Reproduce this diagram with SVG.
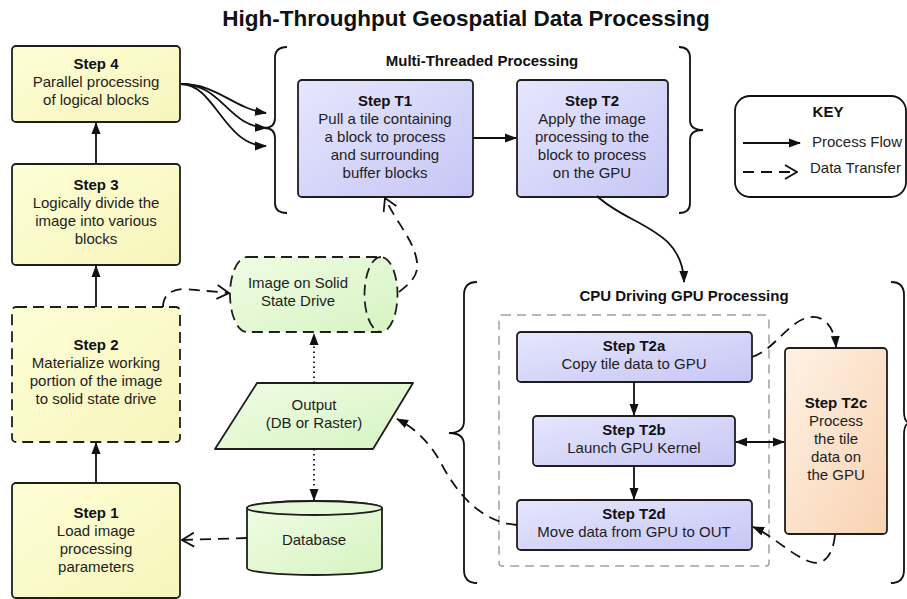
<svg xmlns="http://www.w3.org/2000/svg" width="907" height="599" viewBox="0 0 907 599">
  <defs>
    <linearGradient id="gYellow" x1="0" y1="0" x2="1" y2="1">
      <stop offset="0" stop-color="#fefed6"/>
      <stop offset="1" stop-color="#f7f5bc"/>
    </linearGradient>
    <linearGradient id="gBlue" x1="0" y1="0" x2="1" y2="1">
      <stop offset="0" stop-color="#e6e6fd"/>
      <stop offset="1" stop-color="#c6c6f6"/>
    </linearGradient>
    <linearGradient id="gGreen" x1="0" y1="0" x2="1" y2="1">
      <stop offset="0" stop-color="#f0fde4"/>
      <stop offset="1" stop-color="#d6f3c2"/>
    </linearGradient>
    <linearGradient id="gPeach" x1="0" y1="0" x2="1" y2="1">
      <stop offset="0" stop-color="#fef2e4"/>
      <stop offset="1" stop-color="#f8d2b2"/>
    </linearGradient>
    <marker id="arrow" viewBox="0 0 12 10" refX="11" refY="5" markerWidth="12" markerHeight="10" markerUnits="userSpaceOnUse" orient="auto-start-reverse">
      <path d="M0,0.5 L12,5 L0,9.5 Z" fill="#111"/>
    </marker>
    <marker id="open" viewBox="0 0 14 16" refX="13" refY="8" markerWidth="14" markerHeight="16" markerUnits="userSpaceOnUse" orient="auto">
      <path d="M1,1 L13,8 L1,15" fill="none" stroke="#111" stroke-width="1.8"/>
    </marker>
  </defs>
  <style>
    text { font-family: "Liberation Sans", Arial, sans-serif; fill: #1e1e1e; text-anchor: middle; }
    .title { font-size: 22.5px; font-weight: bold; fill: #111; }
    .hdr { font-size: 15px; font-weight: bold; fill: #111; }
    .t { font-size: 15px; }
    .b { font-weight: bold; fill: #111; }
    .box { stroke: #1e1e1e; stroke-width: 1.8; }
    .dashedBox { stroke-dasharray: 11 6; }
    .flow { fill: none; stroke: #111; stroke-width: 1.8; }
    .data { fill: none; stroke: #111; stroke-width: 1.8; stroke-dasharray: 11 7; }
    .dot { fill: none; stroke: #111; stroke-width: 1.8; stroke-dasharray: 1.5 3.5; }
    .brace { fill: none; stroke: #111; stroke-width: 1.8; }
  </style>

  <text class="title" x="466" y="26">High-Throughput Geospatial Data Processing</text>

  <!-- group braces and labels -->
  <g id="multi-threaded-group">
    <path class="brace" d="M287,47 C280,47 275,50 275,58 V118 C275,125 271,128 264,128 C271,128 275,131 275,138 V203 C275,210 280,213 287,213"/>
    <path class="brace" d="M679,47 C686,47 690,50 690,58 V120 C690,127 694,130 703,130 C694,130 690,133 690,140 V203 C690,210 686,213 679,213"/>
    <text class="hdr" x="482" y="66">Multi-Threaded Processing</text>
  </g>
  <g id="cpu-gpu-group">
    <path class="brace" d="M477,282 C469,282 464,286 464,295 V421 C464,429 459,433 449,433 C459,433 464,437 464,445 V570 C464,579 469,583 477,583"/>
    <path class="brace" d="M891,282 C899,282 904,286 904,295 V411 C904,419 906,423 910,423 C906,423 904,427 904,435 V570 C904,579 899,583 891,583"/>
    <text class="hdr" x="684" y="301">CPU Driving GPU Processing</text>
    <rect x="499" y="315" width="270" height="251" rx="3" fill="none" stroke="#a0a0a0" stroke-width="1.5" stroke-dasharray="9 6"/>
  </g>

  <!-- key -->
  <g id="key">
    <rect x="735" y="96" width="171" height="101" rx="15" fill="#fff" stroke="#111" stroke-width="1.8"/>
    <text class="hdr" x="828" y="117">KEY</text>
    <path class="flow" d="M743,143 H800" marker-end="url(#arrow)"/>
    <text class="t" x="812" y="147" style="text-anchor:start">Process Flow</text>
    <path class="data" d="M743,172 H797" marker-end="url(#open)"/>
    <text class="t" x="810" y="173" style="text-anchor:start">Data Transfer</text>
  </g>

  <!-- left column steps -->
  <g id="step4">
    <rect class="box" x="12" y="46" width="168" height="76" rx="4" fill="url(#gYellow)"/>
    <text class="t" x="96" y="69"><tspan class="b">Step 4</tspan><tspan x="96" dy="18">Parallel processing</tspan><tspan x="96" dy="18">of logical blocks</tspan></text>
  </g>
  <g id="step3">
    <rect class="box" x="12" y="164" width="168" height="101" rx="4" fill="url(#gYellow)"/>
    <text class="t" x="96" y="190"><tspan class="b">Step 3</tspan><tspan x="96" dy="18">Logically divide the</tspan><tspan x="96" dy="18">image into various</tspan><tspan x="96" dy="18">blocks</tspan></text>
  </g>
  <g id="step2">
    <rect class="box dashedBox" x="12" y="307" width="168" height="135" rx="4" fill="url(#gYellow)"/>
    <text class="t" x="96" y="350"><tspan class="b">Step 2</tspan><tspan x="96" dy="18">Materialize working</tspan><tspan x="96" dy="18">portion of the image</tspan><tspan x="96" dy="18">to solid state drive</tspan></text>
  </g>
  <g id="step1">
    <rect class="box" x="12" y="483" width="168" height="115" rx="4" fill="url(#gYellow)"/>
    <text class="t" x="96" y="518"><tspan class="b">Step 1</tspan><tspan x="96" dy="18">Load image</tspan><tspan x="96" dy="18">processing</tspan><tspan x="96" dy="18">parameters</tspan></text>
  </g>

  <!-- storage -->
  <g id="ssd">
    <path class="box dashedBox" d="M247,257 H381 A16.5,37.5 0 0 1 381,332 H247 A17,37.5 0 0 1 247,257 Z" fill="url(#gGreen)"/>
    <path class="box dashedBox" d="M381,257 A16.5,37.5 0 0 0 381,332" fill="none"/>
    <text class="t" x="298" y="288"><tspan>Image on Solid</tspan><tspan x="298" dy="18">State Drive</tspan></text>
  </g>
  <g id="output">
    <path class="box" d="M257,383 H413 L373,449 H215 Z" fill="url(#gGreen)" stroke-linejoin="round"/>
    <text class="t" x="314" y="410"><tspan>Output</tspan><tspan x="314" dy="18">(DB or Raster)</tspan></text>
  </g>
  <g id="database">
    <path class="box" d="M247,508 V568 A67.5,7 0 0 0 382,568 V508 A67.5,7 0 0 0 247,508 Z" fill="url(#gGreen)"/>
    <ellipse class="box" cx="314.5" cy="508" rx="67.5" ry="7" fill="#e6f9d6"/>
    <text class="t" x="314" y="545">Database</text>
  </g>

  <!-- multi-threaded steps -->
  <g id="stepT1">
    <rect class="box" x="298" y="80" width="175" height="117" rx="4" fill="url(#gBlue)"/>
    <text class="t" x="385" y="106"><tspan class="b">Step T1</tspan><tspan x="385" dy="18">Pull a tile containing</tspan><tspan x="385" dy="18">a block to process</tspan><tspan x="385" dy="18">and surrounding</tspan><tspan x="385" dy="18">buffer blocks</tspan></text>
  </g>
  <g id="stepT2">
    <rect class="box" x="517" y="80" width="151" height="117" rx="4" fill="url(#gBlue)"/>
    <text class="t" x="592" y="106"><tspan class="b">Step T2</tspan><tspan x="592" dy="18">Apply the image</tspan><tspan x="592" dy="18">processing to the</tspan><tspan x="592" dy="18">block to process</tspan><tspan x="592" dy="18">on the GPU</tspan></text>
  </g>

  <!-- GPU steps -->
  <g id="stepT2a">
    <rect class="box" x="517" y="332" width="235" height="50" rx="4" fill="url(#gBlue)"/>
    <text class="t" x="634" y="351"><tspan class="b">Step T2a</tspan><tspan x="634" dy="18">Copy tile data to GPU</tspan></text>
  </g>
  <g id="stepT2b">
    <rect class="box" x="533" y="416" width="202" height="50" rx="4" fill="url(#gBlue)"/>
    <text class="t" x="634" y="435"><tspan class="b">Step T2b</tspan><tspan x="634" dy="18">Launch GPU Kernel</tspan></text>
  </g>
  <g id="stepT2d">
    <rect class="box" x="517" y="500" width="235" height="50" rx="4" fill="url(#gBlue)"/>
    <text class="t" x="634" y="519"><tspan class="b">Step T2d</tspan><tspan x="634" dy="18">Move data from GPU to OUT</tspan></text>
  </g>
  <g id="stepT2c">
    <rect class="box" x="785" y="348" width="102" height="186" rx="4" fill="url(#gPeach)"/>
    <text class="t" x="836" y="408"><tspan class="b">Step T2c</tspan><tspan x="836" dy="18">Process</tspan><tspan x="836" dy="18">the tile</tspan><tspan x="836" dy="18">data on</tspan><tspan x="836" dy="18">the GPU</tspan></text>
  </g>

  <!-- connectors -->
  <g id="connectors">
    <path class="flow" d="M96,483 V443" marker-end="url(#arrow)"/>
    <path class="flow" d="M96,307 V266" marker-end="url(#arrow)"/>
    <path class="flow" d="M96,164 V123" marker-end="url(#arrow)"/>
    <path class="flow" d="M181,84 C218,84 232,108 266,113" marker-end="url(#arrow)"/>
    <path class="flow" d="M181,84 C222,84 228,126 266,128" marker-end="url(#arrow)"/>
    <path class="flow" d="M181,84 C215,84 224,146 266,146" marker-end="url(#arrow)"/>
    <path class="flow" d="M473,138 H516" marker-end="url(#arrow)"/>
    <path class="flow" d="M597,196 C628,226 683,228 684,282" marker-end="url(#arrow)"/>
    <path class="flow" d="M634,382 V415" marker-end="url(#arrow)"/>
    <path class="flow" d="M634,466 V499" marker-end="url(#arrow)"/>
    <path class="flow" d="M736,442 H784" marker-start="url(#arrow)" marker-end="url(#arrow)"/>
    <path class="data" d="M752,357 C775,350 790,318 812,317 C826,316 835,330 836,347" marker-end="url(#arrow)"/>
    <path class="data" d="M835,535 C833,555 824,566 811,562 C792,556 772,535 753,527" marker-end="url(#arrow)"/>
    <path class="data" d="M517,525 C480,522 456,492 441,463 C429,441 413,427 397,419" marker-end="url(#arrow)"/>
    <path class="dot" d="M314,383 V334" marker-end="url(#arrow)"/>
    <path class="dot" d="M314,449 V500" marker-end="url(#arrow)"/>
    <path class="data" d="M247,538 L182,540" marker-end="url(#open)"/>
    <path class="data" d="M163,307 C163,296 170,289 185,289 L229,293" marker-end="url(#open)"/>
    <path class="data" d="M399,292 C410,283 419,276 417,262 C414,240 396,222 385,198" marker-end="url(#open)"/>
  </g>
</svg>
